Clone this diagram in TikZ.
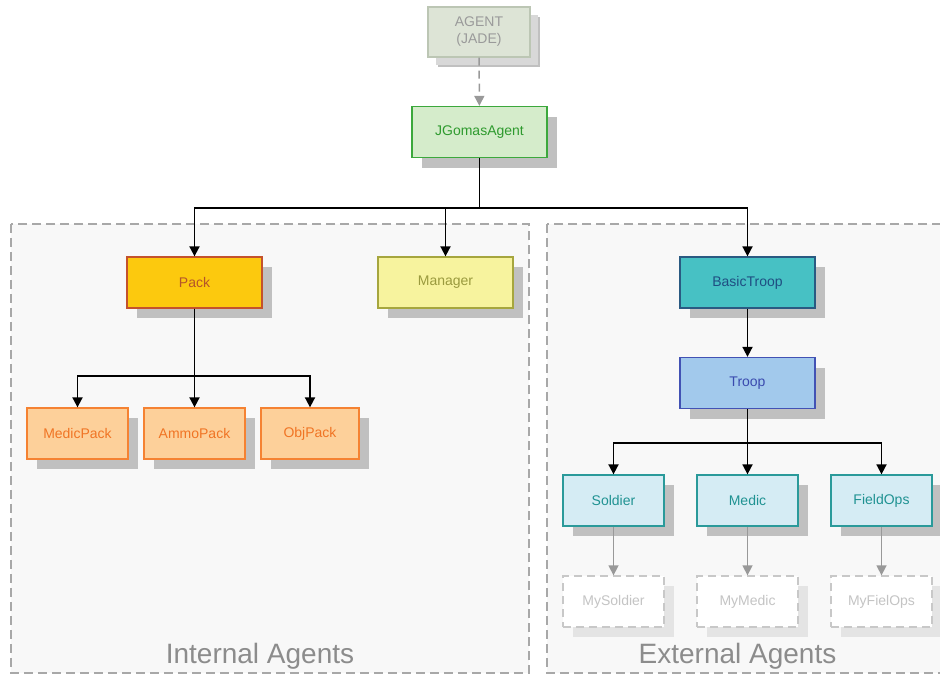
\documentclass[tikz,border=0pt]{standalone}
\usepackage{fontspec}
\setmainfont{Liberation Sans}
\usetikzlibrary{arrows.meta,shadows}

\definecolor{areafill}{HTML}{F8F8F8}
\definecolor{arealine}{HTML}{A8A8A8}
\definecolor{areatext}{HTML}{8C8C8C}
\definecolor{shadowgray}{HTML}{C0C0C0}
\definecolor{shadowlight}{HTML}{E4E4E4}
\definecolor{shadowagent}{HTML}{D8D8D8}
\definecolor{linkgray}{HTML}{999999}
% box palettes: fill / border / text
\definecolor{agentF}{HTML}{DDE4D6}\definecolor{agentD}{HTML}{BCC6B4}\definecolor{agentT}{HTML}{9A9A9A}
\definecolor{jgF}{HTML}{D5ECCB}\definecolor{jgD}{HTML}{3CA83C}\definecolor{jgT}{HTML}{2E9A2E}
\definecolor{packF}{HTML}{FCC90E}\definecolor{packD}{HTML}{C4522C}\definecolor{packT}{HTML}{B5552A}
\definecolor{mgrF}{HTML}{F7F39E}\definecolor{mgrD}{HTML}{A6A63E}\definecolor{mgrT}{HTML}{9A9A3E}
\definecolor{btF}{HTML}{47C1C4}\definecolor{btD}{HTML}{2A5A82}\definecolor{btT}{HTML}{1F4E82}
\definecolor{troopF}{HTML}{A2C9EC}\definecolor{troopD}{HTML}{4252B4}\definecolor{troopT}{HTML}{3A4AAE}
\definecolor{itemF}{HTML}{FDD09A}\definecolor{itemD}{HTML}{F58232}\definecolor{itemT}{HTML}{F07424}
\definecolor{roleF}{HTML}{D5ECF4}\definecolor{roleD}{HTML}{2A9A9A}\definecolor{roleT}{HTML}{1F9292}
\definecolor{userD}{HTML}{C8C8C8}\definecolor{userT}{HTML}{C4C4C4}

\tikzset{
  classbox/.style={draw, line width=1.3pt, inner sep=0pt,
    minimum width=135pt, minimum height=51pt, align=center,
    font=\fontsize{14}{17}\selectfont,
    drop shadow={shadow xshift=10pt, shadow yshift=-10pt, fill=shadowgray, opacity=1}},
  smallbox/.style={classbox, minimum width=101pt},
  agentbox/.style={classbox, minimum width=102pt, minimum height=50pt,
    fill=agentF, draw=agentD, text=agentT,
    drop shadow={shadow xshift=8pt, shadow yshift=-8pt, fill=shadowagent, opacity=1}},
  jgbox/.style={classbox, fill=jgF, draw=jgD, text=jgT},
  packbox/.style={classbox, fill=packF, draw=packD, text=packT},
  mgrbox/.style={classbox, fill=mgrF, draw=mgrD, text=mgrT},
  btbox/.style={classbox, fill=btF, draw=btD, text=btT},
  troopbox/.style={classbox, fill=troopF, draw=troopD, text=troopT},
  itembox/.style={smallbox, fill=itemF, draw=itemD, text=itemT},
  rolebox/.style={smallbox, fill=roleF, draw=roleD, text=roleT},
  userbox/.style={smallbox, fill=white, draw=userD, text=userT,
    dash pattern=on 8pt off 5pt,
    drop shadow={shadow xshift=10pt, shadow yshift=-10pt, fill=shadowlight, opacity=1}},
  arr/.style={line width=1.8pt, black, -{Triangle[length=10pt,width=10pt]}},
  grayarr/.style={line width=1.5pt, linkgray, -{Triangle[length=10pt,width=10pt]}},
  dasharr/.style={grayarr, dash pattern=on 8pt off 5pt},
  area/.style={draw=arealine, fill=areafill, line width=1.2pt, dash pattern=on 9pt off 5pt},
  arealabel/.style={anchor=base, text=areatext, font=\fontsize{28}{32}\selectfont},
}

\begin{document}
\begin{tikzpicture}[x=1pt, y=-1pt]
  \useasboundingbox (0,0) rectangle (940,678);
  \fill[white] (0,0) rectangle (940,678);

  % grouping areas
  \draw[area] (11,224) rectangle (529,673);
  \draw[area] (547,224) rectangle (960,673);
  \node[arealabel] (intlabel) at (260,663) {Internal Agents};
  \node[arealabel] (extlabel) at (737.5,663) {External Agents};

  % class boxes
  \node[agentbox] (agent) at (479,32) {AGENT\\(JADE)};
  \node[jgbox] (jg) at (479.5,132) {JGomasAgent};

  \node[packbox] (pack) at (194.5,282.5) {Pack};
  \node[mgrbox] (mgr) at (445.5,282.5) {Manager};
  \node[btbox] (bt) at (747.5,282.5) {BasicTroop};
  \node[troopbox] (troop) at (747.5,383) {Troop};

  \node[itembox] (medicpack) at (77.5,433.5) {MedicPack};
  \node[itembox] (ammopack) at (194.5,433.5) {AmmoPack};
  \node[itembox, minimum width=98pt] (objpack) at (310,433.5) {ObjPack};

  \node[rolebox] (soldier) at (613.5,500.5) {Soldier};
  \node[rolebox] (medic) at (747.5,500.5) {Medic};
  \node[rolebox] (fieldops) at (881.5,500.5) {FieldOps};

  \node[userbox] (mysoldier) at (613.5,601.5) {MySoldier};
  \node[userbox] (mymedic) at (747.5,601.5) {MyMedic};
  \node[userbox] (myfieldops) at (881.5,601.5) {MyFielOps};

  % connectors
  \draw[dasharr] (agent) -- (jg);

  \draw[arr] (jg.south) -- ++(0,50) -| (pack.north);
  \draw[arr] (jg.south) -- ++(0,50) -| (mgr.north);
  \draw[arr] (jg.south) -- ++(0,50) -| (bt.north);

  \draw[arr] (pack.south) -- ++(0,67) -| (medicpack.north);
  \draw[arr] (pack.south) -- (ammopack.north);
  \draw[arr] (pack.south) -- ++(0,67) -| (objpack.north);

  \draw[arr] (bt) -- (troop);

  \draw[arr] (troop.south) -- ++(0,34) -| (soldier.north);
  \draw[arr] (troop.south) -- (medic.north);
  \draw[arr] (troop.south) -- ++(0,34) -| (fieldops.north);

  \draw[grayarr] (soldier) -- (mysoldier);
  \draw[grayarr] (medic) -- (mymedic);
  \draw[grayarr] (fieldops) -- (myfieldops);
\end{tikzpicture}
\end{document}
